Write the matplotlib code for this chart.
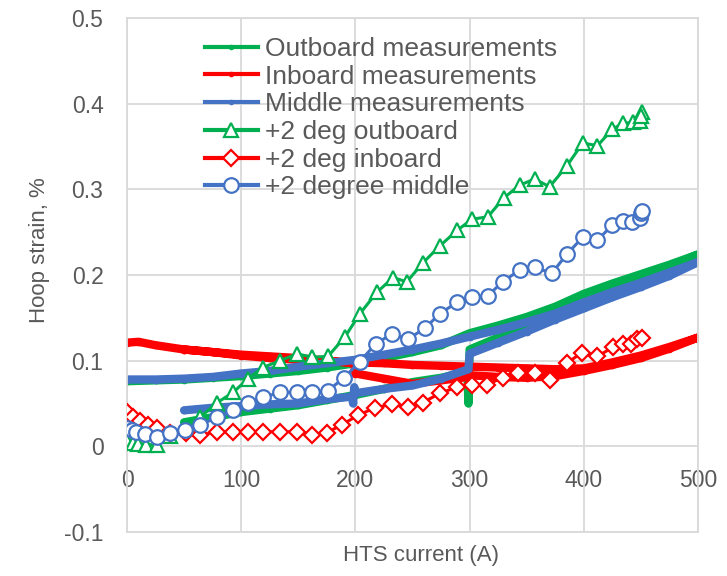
import matplotlib.pyplot as plt
from matplotlib.lines import Line2D

# Ramp up to 500 A, then back down (hysteresis branch below)
out_current = [0, 25, 50, 75, 100, 125, 150, 175, 200, 225, 250, 275, 300, 325, 350, 375, 400, 425, 450, 475, 500,
               475, 450, 425, 400, 375, 350, 325, 300, 299, 298, 275, 250, 225, 200, 175, 150, 125, 100, 75, 50]
out_strain = [0.076, 0.077, 0.078, 0.080, 0.082, 0.085, 0.088, 0.092, 0.097, 0.103, 0.110, 0.118, 0.132, 0.141, 0.151, 0.163, 0.178, 0.190, 0.201, 0.212, 0.224,
              0.209, 0.195, 0.181, 0.167, 0.153, 0.140, 0.127, 0.113, 0.050, 0.087, 0.080, 0.075, 0.067, 0.060, 0.054, 0.048, 0.044, 0.040, 0.034, 0.028]

in_current = [0, 10, 25, 50, 75, 100, 125, 150, 175, 200, 225, 250, 275, 300, 325, 350, 375, 400, 425, 450, 475, 500,
              475, 450, 425, 400, 375, 350, 325, 300, 299, 275, 250, 225, 200, 199, 175, 150, 125, 100, 75, 50]
in_strain = [0.121, 0.122, 0.118, 0.113, 0.110, 0.106, 0.103, 0.101, 0.099, 0.098, 0.097, 0.095, 0.094, 0.093, 0.092, 0.091, 0.090, 0.091, 0.098, 0.106, 0.116, 0.127,
             0.114, 0.103, 0.095, 0.088, 0.082, 0.080, 0.081, 0.083, 0.081, 0.077, 0.073, 0.079, 0.085, 0.097, 0.100, 0.103, 0.105, 0.107, 0.110, 0.113]

mid_current = [0, 25, 50, 75, 100, 125, 150, 175, 200, 225, 250, 275, 300, 325, 350, 375, 400, 425, 450, 475, 500,
               475, 450, 425, 400, 375, 350, 325, 300, 299, 275, 250, 225, 200, 199, 198, 197, 175, 150, 125, 100, 75, 50]
mid_strain = [0.078, 0.078, 0.079, 0.081, 0.085, 0.088, 0.093, 0.097, 0.101, 0.107, 0.113, 0.120, 0.128, 0.136, 0.145, 0.155, 0.168, 0.180, 0.191, 0.203, 0.215,
              0.199, 0.186, 0.174, 0.161, 0.148, 0.134, 0.121, 0.108, 0.090, 0.079, 0.071, 0.067, 0.062, 0.069, 0.050, 0.058, 0.055, 0.050, 0.049, 0.047, 0.045, 0.042]

deg_out_current = [0, 5, 10, 17, 26, 38, 52, 64, 79, 93, 106, 119, 134, 149, 162, 176, 191, 204, 219, 233, 245, 259, 274, 289,
                   302, 316, 330, 344, 357, 370, 385, 399, 412, 425, 434, 443, 449, 451, 450]
deg_out_strain = [0.006, 0.004, 0.003, 0.002, 0.002, 0.012, 0.022, 0.034, 0.051, 0.063, 0.079, 0.092, 0.100, 0.108, 0.104, 0.105, 0.128, 0.155, 0.180, 0.197, 0.192, 0.214, 0.234, 0.252,
                  0.265, 0.268, 0.290, 0.305, 0.312, 0.303, 0.327, 0.354, 0.351, 0.370, 0.377, 0.378, 0.380, 0.390, 0.385]

deg_in_current = [0, 5, 11, 18, 26, 38, 52, 64, 79, 93, 106, 119, 134, 149, 162, 175, 188, 202, 217, 232, 246, 259, 274, 289,
                  302, 315, 329, 342, 357, 370, 385, 398, 412, 426, 434, 441, 447, 451]
deg_in_strain = [0.040, 0.034, 0.030, 0.025, 0.021, 0.015, 0.015, 0.013, 0.017, 0.017, 0.017, 0.017, 0.017, 0.017, 0.013, 0.016, 0.025, 0.036, 0.045, 0.049, 0.046, 0.051, 0.062, 0.069,
                 0.071, 0.072, 0.080, 0.086, 0.086, 0.077, 0.097, 0.109, 0.105, 0.116, 0.120, 0.120, 0.125, 0.127]

deg_mid_current = [0, 4, 8, 16, 26, 38, 51, 64, 79, 93, 106, 119, 134, 149, 162, 176, 190, 204, 218, 232, 246, 261, 274, 289,
                   302, 316, 329, 344, 357, 372, 385, 399, 412, 425, 434, 442, 449, 450, 451]
deg_mid_strain = [0.021, 0.019, 0.017, 0.014, 0.011, 0.015, 0.019, 0.025, 0.034, 0.042, 0.051, 0.057, 0.063, 0.063, 0.063, 0.065, 0.080, 0.099, 0.120, 0.131, 0.125, 0.138, 0.155, 0.168,
                  0.174, 0.176, 0.192, 0.206, 0.209, 0.202, 0.224, 0.244, 0.241, 0.258, 0.263, 0.262, 0.266, 0.272, 0.275]

labels = ['Outboard measurements', 'Inboard measurements', 'Middle measurements',
          '+2 deg outboard', '+2 deg inboard', '+2 degree middle']
x_ticks = [0, 100, 200, 300, 400, 500]
y_ticks = [-0.1, 0, 0.1, 0.2, 0.3, 0.4, 0.5]
y_tick_labels = ['-0.1', '0', '0.1', '0.2', '0.3', '0.4', '0.5']

green = '#00B050'
red = '#FF0000'
blue = '#4472C4'
text_color = '#595959'
grid_color = '#D9D9D9'

plt.rcParams['font.family'] = ['Liberation Sans', 'DejaVu Sans']

fig = plt.figure(figsize=(7.27, 5.76), dpi=100)
ax = fig.add_axes([0.1747, 0.0764, 0.7854, 0.8924])

# Measured ramps drawn as thick bands
for cur, val, col in [(out_current, out_strain, green), (in_current, in_strain, red),
                      (mid_current, mid_strain, blue)]:
    ax.plot(cur, val, color=col, lw=6, marker='o', ms=4.5, solid_joinstyle='round',
            solid_capstyle='round', zorder=2)

# +2 degree runs with open markers
for cur, val, col, mk, ms in [(deg_out_current, deg_out_strain, green, '^', 10),
                              (deg_in_current, deg_in_strain, red, 'D', 8.5),
                              (deg_mid_current, deg_mid_strain, blue, 'o', 10.5)]:
    ax.plot(cur, val, color=col, lw=2.2, marker=mk, ms=ms, mfc='white', mec=col, mew=1.6, zorder=3)

ax.set_xlim(0, 500)
ax.set_ylim(-0.1, 0.5)
ax.set_xticks(x_ticks)
ax.set_yticks(y_ticks, y_tick_labels)
ax.tick_params(axis='x', labelbottom=False, length=0)
ax.tick_params(axis='y', length=0, pad=17, labelsize=16.5, labelcolor=text_color)
ax.grid(True, color=grid_color, lw=1.3)
ax.set_axisbelow(True)
for sp in ax.spines.values():
    sp.set_color(grid_color)
    sp.set_linewidth(1.3)

# current labels sit just under the zero line
sec = ax.secondary_xaxis(1 / 6)
sec.set_xticks(x_ticks)
sec.tick_params(length=0, pad=16, labelsize=16.5, labelcolor=text_color)
sec.spines['bottom'].set_visible(False)

ax.set_xlabel('HTS current (A)', fontsize=16, color=text_color)
ax.xaxis.set_label_coords(0.515, -0.025)
ax.set_ylabel('Hoop strain, %', fontsize=16, color=text_color)
ax.yaxis.set_label_coords(-0.135, 0.549)

handles = [Line2D([0], [0], color=green, lw=3, marker='o', ms=3),
           Line2D([0], [0], color=red, lw=3, marker='o', ms=3),
           Line2D([0], [0], color=blue, lw=3, marker='o', ms=3),
           Line2D([0], [0], color=green, lw=3, marker='^', ms=10, mfc='white', mew=1.6),
           Line2D([0], [0], color=red, lw=3, marker='D', ms=8.5, mfc='white', mew=1.6),
           Line2D([0], [0], color=blue, lw=3, marker='o', ms=10.5, mfc='white', mew=1.6)]
ax.legend(handles, labels, loc='upper left', bbox_to_anchor=(0.1366, 0.963), frameon=False,
          fontsize=19, labelcolor=text_color, handlelength=2.0, handletextpad=0.27,
          labelspacing=0.14, borderpad=0, borderaxespad=0)

fig.savefig('out.png', dpi=100)
plt.close(fig)
